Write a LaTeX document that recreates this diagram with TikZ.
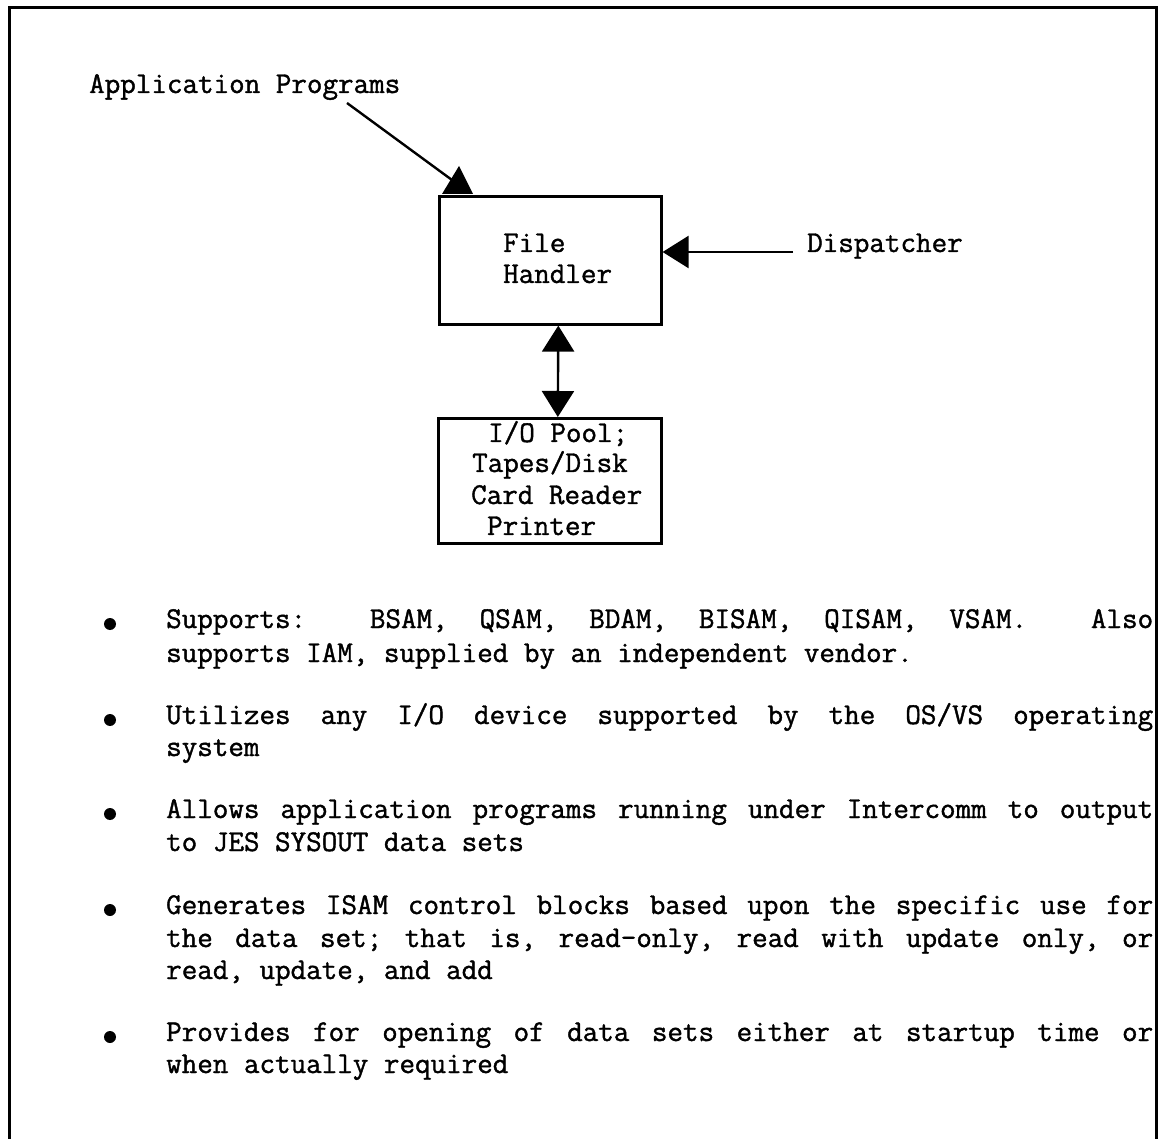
\documentclass[tikz,border=0pt]{standalone}
\usepackage{fontspec}
\newfontfamily\typew{Latin Modern Mono}[FakeBold=1.3]
\usetikzlibrary{arrows.meta}
\newcommand\jline[1]{\makebox[987pt][s]{\spaceskip=\fontdimen2\font plus 1fil\relax #1}}
\begin{document}
\begin{tikzpicture}[x=1pt,y=-1pt,
  txt/.style={anchor=base west, inner sep=0pt, font=\typew\bfseries\fontsize{30.2}{36}\selectfont\frenchspacing},
  box/.style={draw, line width=2.6pt, inner sep=0pt, anchor=north west},
  conn/.style={line width=2.4pt, -{Triangle[length=26pt,width=32pt]}},
  dconn/.style={line width=2.4pt, {Triangle[length=26pt,width=32pt]}-{Triangle[length=26pt,width=32pt]}},
  bul/.style={circle, fill, inner sep=0pt, minimum size=12pt}]
\useasboundingbox (0,0) rectangle (1163,1139);
\draw[line width=3pt] (9,1139) -- (9,8) -- (1156,8) -- (1156,1139);

% boxes
\node[box, minimum width=222pt, minimum height=128pt] (fh) at (438,195) {};
\node[box, minimum width=223pt, minimum height=125pt] (io) at (437,417) {};
\node[txt] (fh1) at (503,252) {File};
\node[txt] (fh2) at (503,283) {Handler};
\node[txt] (io1) at (488,442) {I/O Pool;};
\node[txt] (io2) at (472,472) {Tapes/Disk};
\node[txt] (io3) at (471,504) {Card Reader};
\node[txt] (io4) at (487,535) {Printer};

% labels and connectors
\node[txt] (app) at (89,93) {Application Programs};
\node[txt] (disp) at (807,252) {Dispatcher};
\coordinate (asrc) at (347,103);
\coordinate (dsrc) at (793,252);
\draw[line width=2.4pt] (asrc) -- ([shift={(14,-15)}]fh.north west);
\fill ([shift={(21,-29)}]fh.north west) -- ([shift={(4,-1)}]fh.north west) -- ([shift={(35,-1)}]fh.north west) -- cycle;
\draw[conn] (dsrc) -- (dsrc -| fh.east);
\draw[dconn] ([xshift=8pt]fh.south) -- ([xshift=8pt]io.north);

% bullets
\node[bul] (b1) at (110,624) {};
\node[bul] (b2) at (110,720) {};
\node[bul] (b3) at (110,814) {};
\node[bul] (b4) at (110,910) {};
\node[bul] (b5) at (110,1037) {};

\node[txt] (t11) at (166,628) {\jline{Supports: {} BSAM, QSAM, BDAM, BISAM, QISAM, VSAM. {} Also}};
\node[txt] (t12) at (166,662) {supports IAM, supplied by an independent vendor.};
\node[txt] (t21) at (166,724) {\jline{Utilizes any I/O device supported by the OS/VS operating}};
\node[txt] (t22) at (166,756) {system};
\node[txt] (t31) at (166,818) {\jline{Allows application programs running under Intercomm to output}};
\node[txt] (t32) at (166,851) {to JES SYSOUT data sets};
\node[txt] (t41) at (166,914) {\jline{Generates ISAM control blocks based upon the specific use for}};
\node[txt] (t42) at (166,947) {\jline{the data set; that is, read-only, read with update only, or}};
\node[txt] (t43) at (166,979) {read, update, and add};
\node[txt] (t51) at (166,1041) {\jline{Provides for opening of data sets either at startup time or}};
\node[txt] (t52) at (166,1073) {when actually required};
\end{tikzpicture}
\end{document}
